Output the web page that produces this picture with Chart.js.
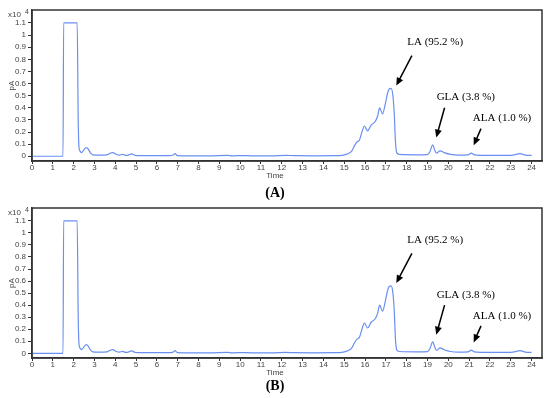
<!DOCTYPE html>
<html>
<head>
<meta charset="utf-8">
<script src="https://cdn.jsdelivr.net/npm/chart.js@4.4.1/dist/chart.umd.min.js"></script>
<style>
  body { margin: 0; background: #fff; }
  canvas { position: absolute; left: 0; }
  #chartA { top: 0; }
  #chartB { top: 198px; }
</style>
</head>
<body>
<canvas id="chartA" width="550" height="200"></canvas>
<canvas id="chartB" width="550" height="200"></canvas>
<script>
// retention time (min) and detector signal (x10^4 pA)
var times = [0, 1.0, 1.49, 1.52, 1.8, 2.17, 2.22, 2.26, 2.3, 2.38, 2.48, 2.6, 2.7, 2.8, 2.92,
  3.2, 3.6, 3.75, 3.88, 4.05, 4.2, 4.35, 4.5, 4.62, 4.78, 4.95, 5.3, 6.0, 6.6, 6.78, 6.87, 6.98,
  7.5, 8.5, 9.4, 9.6, 10.2, 10.5, 11.5, 12.2, 12.6, 13.5, 14.6, 14.95, 15.15, 15.35, 15.5, 15.62,
  15.72, 15.85, 15.97, 16.12, 16.3, 16.48, 16.6, 16.7, 16.84, 16.97, 17.08, 17.16, 17.25, 17.33, 17.4,
  17.46, 17.52, 17.65, 18.5, 19.0, 19.12, 19.25, 19.35, 19.43, 19.6, 19.8, 20.1, 20.5, 20.95,
  21.1, 21.25, 21.6, 22.5, 23.1, 23.45, 23.7, 24.0];
var signal = [0, 0, 0, 1.1, 1.1, 1.1, 0.3, 0.07, 0.045, 0.03, 0.05, 0.072, 0.06, 0.03, 0.012,
  0.01, 0.012, 0.025, 0.03, 0.015, 0.01, 0.016, 0.008, 0.01, 0.02, 0.008, 0.006, 0.005, 0.005, 0.01, 0.022, 0.006,
  0.004, 0.004, 0.007, 0.004, 0.006, 0.004, 0.004, 0.008, 0.005, 0.004, 0.005, 0.01, 0.02, 0.04, 0.09, 0.12,
  0.13, 0.2, 0.25, 0.21, 0.26, 0.285, 0.33, 0.4, 0.35, 0.43, 0.52, 0.555, 0.56, 0.51, 0.36,
  0.12, 0.03, 0.015, 0.012, 0.014, 0.04, 0.095, 0.05, 0.025, 0.045, 0.03, 0.015, 0.01, 0.012,
  0.026, 0.012, 0.008, 0.007, 0.01, 0.022, 0.01, 0.007];

// peak labels and arrows, in data units
var peakLabels = ['LA (95.2 %)', 'GLA (3.8 %)', 'ALA (1.0 %)'];
var labelPos = [[19.37, 0.94], [20.84, 0.485], [22.58, 0.312]];
var arrowFrom = [[18.25, 0.83], [19.82, 0.40], [21.57, 0.228]];
var arrowTo = [[17.5, 0.583], [19.42, 0.154], [21.22, 0.09]];

var axisColor = '#333';
var lineColor = '#6a8ff0';

var extras = {
  id: 'extras',
  afterDraw: function (chart, args, opts) {
    var c = chart.ctx, a = chart.chartArea;
    var xs = chart.scales.x, ys = chart.scales.y;
    c.save();
    // frame
    c.strokeStyle = axisColor;
    c.lineWidth = 1.5;
    c.strokeRect(a.left, a.top, a.right - a.left, a.bottom - a.top);
    // exponent
    c.fillStyle = '#444';
    c.font = '8px "Liberation Sans"';
    c.textBaseline = 'middle';
    c.textAlign = 'left';
    c.fillText('x10', 8, a.top + 5);
    c.font = '7px "Liberation Sans"';
    c.fillText('4', 25, a.top + 2);
    // axis title
    c.font = '8px "Liberation Sans"';
    c.textAlign = 'center';
    c.fillText('Time', 275, a.bottom + 15);
    // panel letter
    c.fillStyle = '#000';
    c.font = 'bold 14px "Liberation Serif"';
    c.fillText(opts.letter, 275, a.bottom + opts.letterGap);
    // peak annotations
    c.font = '11px "Liberation Serif"';
    c.strokeStyle = '#000';
    c.lineWidth = 1.5;
    for (var i = 0; i < peakLabels.length; i++) {
      c.fillText(peakLabels[i], xs.getPixelForValue(labelPos[i][0]), ys.getPixelForValue(labelPos[i][1]));
      var x1 = xs.getPixelForValue(arrowFrom[i][0]), y1 = ys.getPixelForValue(arrowFrom[i][1]);
      var x2 = xs.getPixelForValue(arrowTo[i][0]), y2 = ys.getPixelForValue(arrowTo[i][1]);
      var ang = Math.atan2(y2 - y1, x2 - x1);
      c.beginPath();
      c.moveTo(x1, y1);
      c.lineTo(x2 - 5 * Math.cos(ang), y2 - 5 * Math.sin(ang));
      c.stroke();
      c.beginPath();
      c.moveTo(x2, y2);
      c.lineTo(x2 - 8 * Math.cos(ang) + 3.5 * Math.sin(ang), y2 - 8 * Math.sin(ang) - 3.5 * Math.cos(ang));
      c.lineTo(x2 - 8 * Math.cos(ang) - 3.5 * Math.sin(ang), y2 - 8 * Math.sin(ang) + 3.5 * Math.cos(ang));
      c.closePath();
      c.fill();
    }
    c.restore();
  }
};

function makeChart(id, letter, padTop, padBottom, letterGap) {
  var pts = times.map(function (t, i) { return { x: t, y: signal[i] }; });
  return new Chart(document.getElementById(id), {
    type: 'line',
    data: {
      datasets: [{
        data: pts,
        borderColor: lineColor,
        borderWidth: 1.2,
        pointRadius: 0,
        cubicInterpolationMode: 'monotone',
        fill: false
      }]
    },
    options: {
      responsive: false,
      animation: false,
      devicePixelRatio: 1,
      layout: { padding: { top: padTop, right: 8, bottom: padBottom, left: 0 } },
      plugins: {
        legend: { display: false },
        tooltip: { enabled: false },
        extras: { letter: letter, letterGap: letterGap }
      },
      scales: {
        x: {
          type: 'linear',
          min: 0,
          max: 24.5,
          grid: { drawOnChartArea: false, tickLength: 3, color: axisColor },
          border: { color: axisColor, width: 1.5 },
          ticks: { stepSize: 1, includeBounds: false, padding: -1, maxRotation: 0,
            color: '#444', font: { family: 'Liberation Sans', size: 8 } },
          afterFit: function (s) { s.height = 22; }
        },
        y: {
          min: -0.039,
          max: 1.207,
          grid: { drawOnChartArea: false, tickLength: 4, color: axisColor },
          border: { color: axisColor, width: 1.5 },
          ticks: { stepSize: 0.1, includeBounds: false, padding: 2,
            color: '#444', font: { family: 'Liberation Sans', size: 8 },
            callback: function (v) { return Math.abs(v) < 1e-9 ? '0' : String(Math.round(v * 10) / 10); } },
          title: { display: true, text: 'pA', color: '#444',
            font: { family: 'Liberation Sans', size: 8 }, padding: { top: 7, bottom: 0 } },
          afterBuildTicks: function (s) { s.ticks = s.ticks.filter(function (t) { return t.value < 1.15; }); },
          afterFit: function (s) { s.width = 32; }
        }
      }
    },
    plugins: [extras]
  });
}

makeChart('chartA', '(A)', 10, 17, 32);
makeChart('chartB', '(B)', 10, 18, 28);
</script>
</body>
</html>
